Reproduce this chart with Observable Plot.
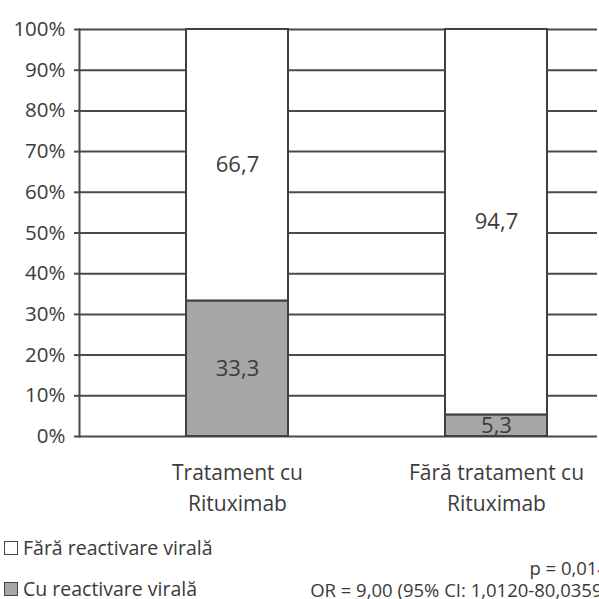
<!DOCTYPE html>
<html>
<head>
<meta charset="utf-8">
<script src="https://cdn.jsdelivr.net/npm/d3@7"></script>
<script src="https://cdn.jsdelivr.net/npm/@observablehq/plot@0.6"></script>
<style>
  body { margin: 0; background: #fff; }
  #wrap { position: relative; width: 599px; height: 599px; overflow: hidden; background: #fff;
          font-family: "Open Sans", sans-serif; color: #3a3a3a; }
  .leg { position: absolute; left: 4px; font-size: 19.5px; line-height: 20px; display: flex; align-items: center; white-space: nowrap; }
  .sw { width: 12px; height: 12px; border: 1.5px solid #444; margin-right: 5px; }
  .stat { position: absolute; right: -9px; font-size: 18.5px; line-height: 19px; white-space: nowrap; text-align: right; }
</style>
</head>
<body>
<div id="wrap"></div>
<script>
const categories = ["Tratament cu\nRituximab", "Fără tratament cu\nRituximab"];
const seriesNames = ["Cu reactivare virală", "Fără reactivare virală"];
const cuReactivare = [33.3, 5.3];
const faraReactivare = [66.7, 94.7];
const yTicks = [0, 10, 20, 30, 40, 50, 60, 70, 80, 90, 100];
const seriesFill = {"Cu reactivare virală": "#a6a6a6", "Fără reactivare virală": "#ffffff"};

const data = [];
categories.forEach((c, i) => {
  data.push({category: c, series: seriesNames[0], value: cuReactivare[i]});
  data.push({category: c, series: seriesNames[1], value: faraReactivare[i]});
});
const fmt = v => String(v).replace(".", ",");

const chart = Plot.plot({
  width: 599,
  height: 530,
  marginTop: 29,
  marginBottom: 94,
  marginLeft: 79,
  marginRight: 2,
  style: {fontFamily: "Open Sans, sans-serif", background: "#fff", color: "#3a3a3a"},
  x: {domain: categories, paddingInner: 0.606, paddingOuter: 0.303, align: 0.68, label: null},
  y: {domain: [0, 100], label: null},
  marks: [
    Plot.ruleY(yTicks, {stroke: "#4a4a4a", strokeWidth: 2}),
    Plot.frame({anchor: "left", stroke: "#4a4a4a", strokeWidth: 2}),
    Plot.axisY({ticks: yTicks, tickFormat: d => d + "%", tickSize: 5, tickPadding: 9,
                fontSize: 20.5, stroke: "#4a4a4a", strokeWidth: 2, fill: "#3c3c3c"}),
    Plot.axisX({tickSize: 0, tickPadding: 21, fontSize: 21, lineHeight: 1.48, fill: "#3c3c3c"}),
    Plot.barY(data, Plot.stackY({x: "category", y: "value", z: "series",
      order: seriesNames, fill: d => seriesFill[d.series], stroke: "#404040", strokeWidth: 2})),
    Plot.text(data, Plot.stackY({x: "category", y: "value", z: "series", order: seriesNames,
      text: d => fmt(d.value), fontSize: 22, fill: "#3c3c3c"}))
  ]
});
const wrap = document.getElementById("wrap");
wrap.appendChild(chart);

const legendY = [538, 579];
seriesNames.slice().reverse().forEach((s, i) => {
  const d = document.createElement("div");
  d.className = "leg";
  d.style.top = legendY[i] + "px";
  d.innerHTML = `<span class="sw" style="background:${seriesFill[s]}"></span>${s}`;
  wrap.appendChild(d);
});
const stats = ["p = 0,014", "OR = 9,00 (95% CI: 1,0120-80,0359)"];
const statY = [558, 580];
stats.forEach((t, i) => {
  const d = document.createElement("div");
  d.className = "stat";
  d.style.top = statY[i] + "px";
  d.textContent = t;
  wrap.appendChild(d);
});
</script>
</body>
</html>
